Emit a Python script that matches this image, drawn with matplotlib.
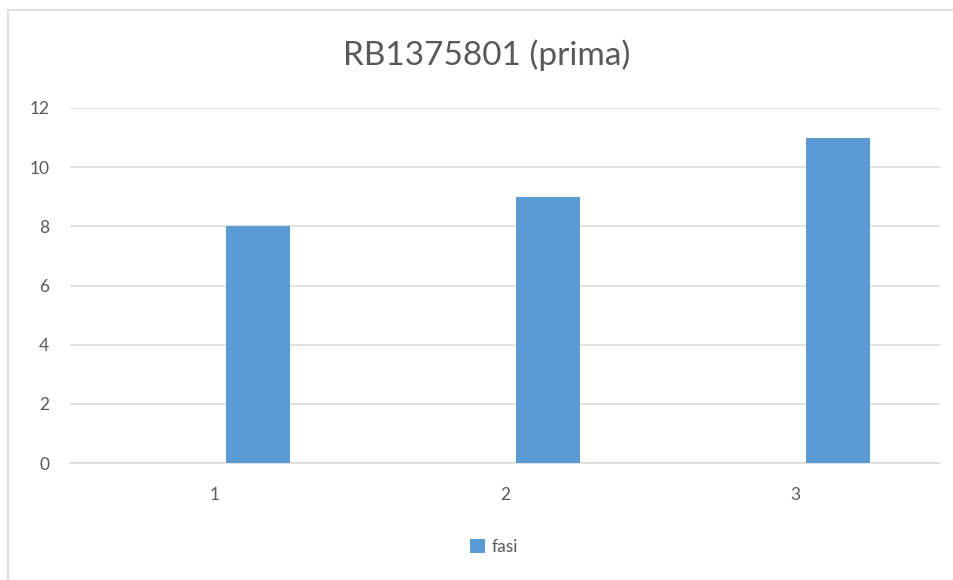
import matplotlib
matplotlib.use("Agg")
import matplotlib.pyplot as plt
from matplotlib.patches import Rectangle

categories = ["1", "2", "3"]
fasi = [8, 9, 11]
y_ticks = [0, 2, 4, 6, 8, 10, 12]
title = "RB1375801 (prima)"
series_name = "fasi"

plt.rcParams['font.family'] = ['Lato', 'DejaVu Sans']

fig = plt.figure(figsize=(9.54, 5.8), dpi=100)
fig.patch.set_facecolor("white")

# outer chart border
fig.add_artist(Rectangle((8 / 954, -0.05), 1.1, 1 - 10 / 580 + 0.05,
                         transform=fig.transFigure, fill=False,
                         edgecolor="#d9d9d9", linewidth=1.2))

ax = fig.add_axes([70 / 954, 1 - 463 / 580, (940 - 70) / 954, (463 - 108) / 580])
x = list(range(1, len(categories) + 1))
ax.bar([xi + 0.148 for xi in x], fasi, width=0.22, color="#5b9bd5",
       label=series_name, zorder=3)

ax.set_xlim(0.5, len(categories) + 0.5)
ax.set_ylim(0, 12)
ax.set_yticks(y_ticks)
ax.set_yticklabels([str(t) for t in y_ticks])
ax.set_xticks(x)
ax.set_xticklabels(categories)
ax.grid(axis="y", color="#d9d9d9", linewidth=1.1, zorder=0)
for s in ["top", "right", "left"]:
    ax.spines[s].set_visible(False)
ax.spines["bottom"].set_color("#d9d9d9")
ax.spines["bottom"].set_linewidth(1.1)
ax.tick_params(axis="both", length=0, colors="#595959", labelsize=12.5)
ax.tick_params(axis="y", pad=15)
ax.tick_params(axis="x", pad=17)

fig.text(487 / 954, 1 - 55 / 580, title, ha="center", va="center",
         fontsize=24, color="#595959")

leg = fig.legend(loc="center", bbox_to_anchor=(494 / 954, 1 - 547 / 580),
                 frameon=False, fontsize=12.5, handlelength=0.9, handleheight=0.9,
                 handletextpad=0.4)
for t in leg.get_texts():
    t.set_color("#595959")

fig.savefig("out.png", dpi=100)
